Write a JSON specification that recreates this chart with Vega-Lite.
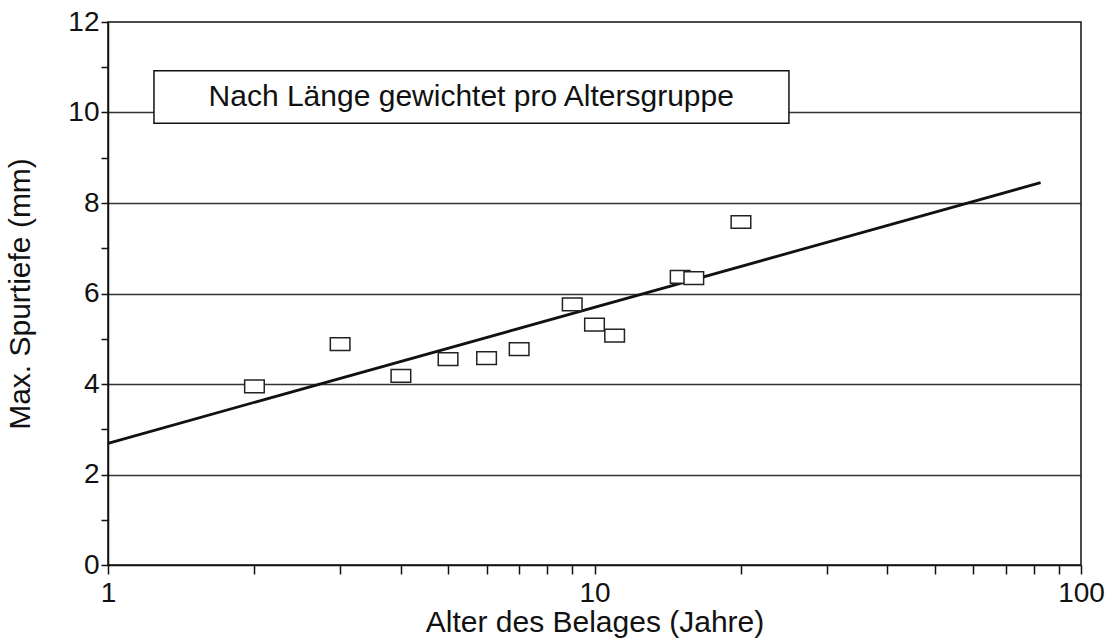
{
  "$schema": "https://vega.github.io/schema/vega-lite/v6.json",
  "width": 973,
  "height": 543,
  "autosize": {"type": "none"},
  "padding": {"left": 108, "top": 22, "right": 30, "bottom": 74},
  "background": "white",
  "config": {
    "view": {"stroke": "#111", "strokeWidth": 1.5},
    "font": "Liberation Sans",
    "axis": {
      "domainColor": "#111",
      "domainWidth": 1.5,
      "tickColor": "#111",
      "tickWidth": 1.5,
      "labelColor": "#111",
      "titleColor": "#111",
      "labelFont": "Liberation Sans",
      "titleFont": "Liberation Sans",
      "labelFontSize": 28,
      "titleFontSize": 30,
      "titleFontWeight": "normal"
    }
  },
  "datasets": {
    "pts": [
      {"alter": 2, "tiefe": 3.95},
      {"alter": 3, "tiefe": 4.88},
      {"alter": 4, "tiefe": 4.18},
      {"alter": 5, "tiefe": 4.55},
      {"alter": 6, "tiefe": 4.57},
      {"alter": 7, "tiefe": 4.77},
      {"alter": 9, "tiefe": 5.76},
      {"alter": 10, "tiefe": 5.31},
      {"alter": 11, "tiefe": 5.07},
      {"alter": 15, "tiefe": 6.37},
      {"alter": 16, "tiefe": 6.34},
      {"alter": 20, "tiefe": 7.58}
    ],
    "fit": [
      {"alter": 1, "tiefe": 2.69},
      {"alter": 82.6, "tiefe": 8.45}
    ],
    "box": [
      {"x1": 1.243, "x2": 25.1, "y1": 9.76, "y2": 10.92, "xm": 5.58, "ym": 10.34, "label": "Nach Länge gewichtet pro Altersgruppe"}
    ]
  },
  "layer": [
    {
      "data": {"name": "fit"},
      "mark": {"type": "line", "color": "#111", "strokeWidth": 2.8},
      "encoding": {
        "x": {
          "field": "alter", "type": "quantitative",
          "scale": {"type": "log", "domain": [1, 100], "nice": false},
          "axis": {
            "title": "Alter des Belages (Jahre)",
            "values": [1, 2, 3, 4, 5, 6, 7, 8, 9, 10, 20, 30, 40, 50, 60, 70, 80, 90, 100],
            "format": "d",
            "labelExpr": "(datum.value == 1 || datum.value == 10 || datum.value == 100) ? datum.label : ''",
            "labelOverlap": false,
            "labelFlush": false,
            "grid": false,
            "tickSize": 9,
            "labelPadding": 5,
            "titlePadding": 0
          }
        },
        "y": {
          "field": "tiefe", "type": "quantitative",
          "scale": {"domain": [0, 12], "nice": false},
          "axis": {
            "title": "Max. Spurtiefe (mm)",
            "values": [0, 0.5, 1, 1.5, 2, 2.5, 3, 3.5, 4, 4.5, 5, 5.5, 6, 6.5, 7, 7.5, 8, 8.5, 9, 9.5, 10, 10.5, 11, 11.5, 12],
            "labelExpr": "datum.value % 2 === 0 ? datum.label : ''",
            "labelOverlap": false,
            "labelFlush": false,
            "tickSize": 7,
            "labelPadding": 2,
            "titlePadding": 32,
            "grid": true,
            "gridColor": "#333",
            "gridWidth": 1.5,
            "gridOpacity": {"condition": {"test": "datum.value % 2 === 0 && datum.value > 0 && datum.value < 12", "value": 1}, "value": 0}
          }
        }
      }
    },
    {
      "data": {"name": "pts"},
      "mark": {"type": "point", "shape": "M-1,-0.65H1V0.65H-1Z", "size": 384, "filled": false, "fill": "white", "fillOpacity": 1, "stroke": "#222", "strokeWidth": 1.5, "opacity": 1},
      "encoding": {
        "x": {"field": "alter", "type": "quantitative"},
        "y": {"field": "tiefe", "type": "quantitative"}
      }
    },
    {
      "data": {"name": "box"},
      "mark": {"type": "rect", "fill": "white", "stroke": "#111", "strokeWidth": 1.5},
      "encoding": {
        "x": {"field": "x1", "type": "quantitative"},
        "x2": {"field": "x2"},
        "y": {"field": "y1", "type": "quantitative"},
        "y2": {"field": "y2"}
      }
    },
    {
      "data": {"name": "box"},
      "mark": {"type": "text", "font": "Liberation Sans", "fontSize": 30, "color": "#111", "align": "center", "baseline": "middle"},
      "encoding": {
        "x": {"field": "xm", "type": "quantitative"},
        "y": {"field": "ym", "type": "quantitative"},
        "text": {"field": "label"}
      }
    }
  ]
}
